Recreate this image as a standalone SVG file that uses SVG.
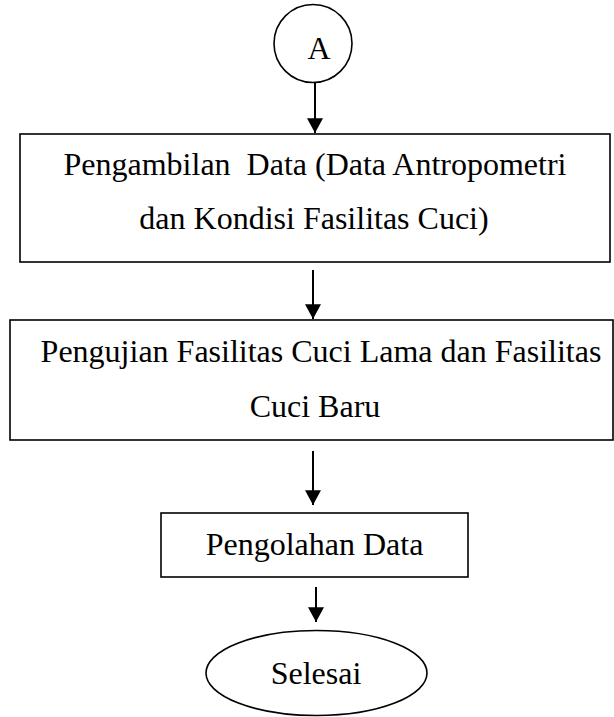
<svg xmlns="http://www.w3.org/2000/svg" width="614" height="717" viewBox="0 0 614 717">
<defs>
<marker id="ah" markerUnits="userSpaceOnUse" markerWidth="16" markerHeight="16" viewBox="0 0 14 14" refX="13" refY="7" orient="auto">
<path d="M0,0 L13,7 L0,14 Z" fill="#000"/>
</marker>
<style>
.shape{fill:#fff;stroke:#000;stroke-width:1.6}
.lbl{font-family:"Liberation Serif","Times New Roman",serif;font-size:32px;fill:#000;text-anchor:middle;white-space:pre}
.conn{stroke:#000;stroke-width:2;fill:none}
</style>
</defs>
<g id="nodeA">
<circle class="shape" cx="313" cy="43.5" r="39"/>
<text class="lbl" x="319" y="59">A</text>
</g>
<g id="node1">
<rect class="shape" x="20" y="134" width="590" height="128"/>
<text class="lbl" x="315" y="175" xml:space="preserve">Pengambilan  Data (Data Antropometri</text>
<text class="lbl" x="314" y="229">dan Kondisi Fasilitas Cuci)</text>
</g>
<g id="node2">
<rect class="shape" x="10" y="320" width="603" height="120"/>
<text class="lbl" x="321" y="362">Pengujian Fasilitas Cuci Lama dan Fasilitas</text>
<text class="lbl" x="315" y="417">Cuci Baru</text>
</g>
<g id="node3">
<rect class="shape" x="161" y="513" width="307" height="64"/>
<text class="lbl" x="314.5" y="555">Pengolahan Data</text>
</g>
<g id="nodeEnd">
<ellipse class="shape" cx="316.5" cy="673" rx="110.5" ry="42.5"/>
<text class="lbl" x="316" y="684">Selesai</text>
</g>
<g id="connectors">
<line class="conn" x1="315" y1="83" x2="315" y2="133" marker-end="url(#ah)"/>
<line class="conn" x1="313" y1="270" x2="313" y2="319" marker-end="url(#ah)"/>
<line class="conn" x1="313" y1="451" x2="313" y2="505" marker-end="url(#ah)"/>
<line class="conn" x1="316" y1="587" x2="316" y2="622" marker-end="url(#ah)"/>
</g>
</svg>
